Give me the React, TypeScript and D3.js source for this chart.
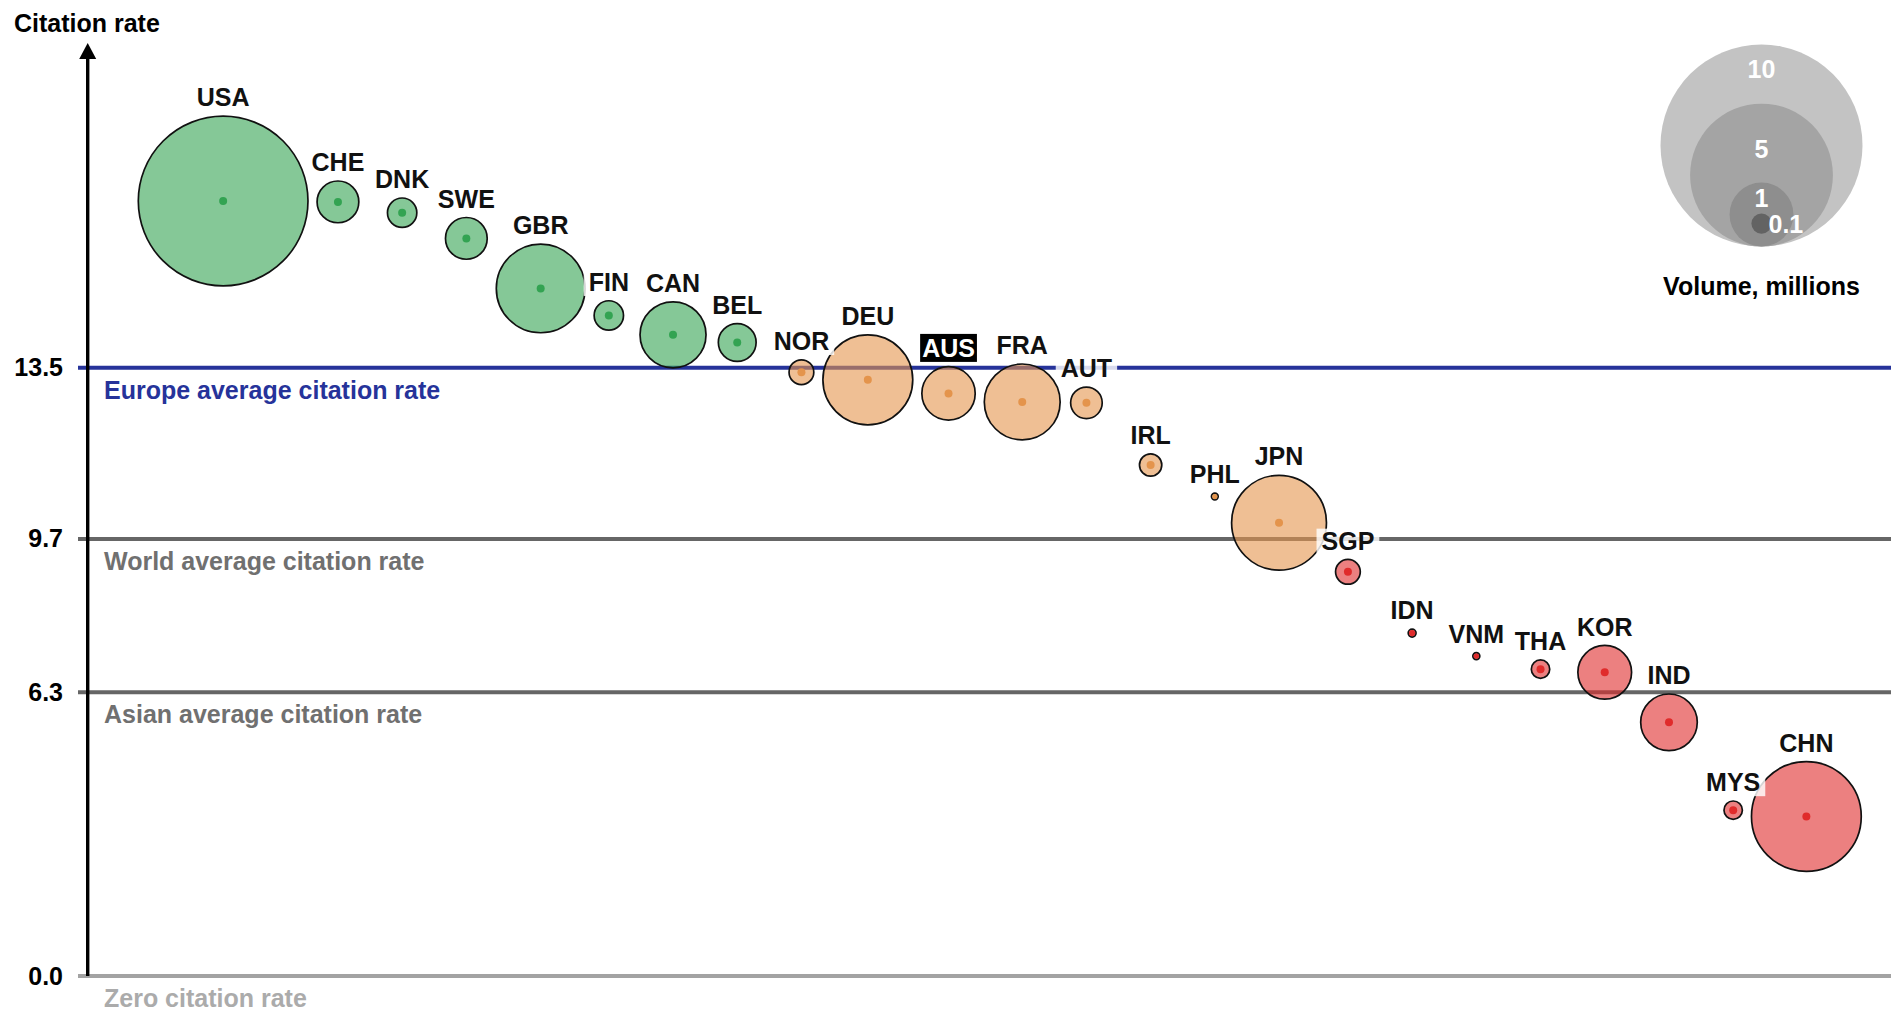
import React, { useEffect, useRef } from "react";
import * as d3 from "d3";

// Countries ordered by citation rate, with citation rate and publication volume (millions)
const countries = [
  "USA", "CHE", "DNK", "SWE", "GBR", "FIN", "CAN", "BEL", "NOR", "DEU", "AUS", "FRA",
  "AUT", "IRL", "PHL", "JPN", "SGP", "IDN", "VNM", "THA", "KOR", "IND", "MYS", "CHN",
];
const citationRates = [
  17.2, 17.18, 16.94, 16.37, 15.26, 14.66, 14.23, 14.06, 13.4, 13.23, 12.93, 12.74,
  12.72, 11.34, 10.64, 10.06, 8.97, 7.61, 7.1, 6.81, 6.74, 5.63, 3.68, 3.54,
];
const volumes = [
  7.19, 0.46, 0.235, 0.46, 2.0, 0.235, 1.12, 0.38, 0.17, 2.05, 0.74, 1.47,
  0.27, 0.14, 0.017, 2.28, 0.17, 0.022, 0.018, 0.098, 0.75, 0.83, 0.098, 3.04,
];
const highlighted = ["AUS"];

// Reference rates drawn as horizontal rules
const benchmarkLabels = [
  "Europe average citation rate",
  "World average citation rate",
  "Asian average citation rate",
  "Zero citation rate",
];
const benchmarkValues = [13.5, 9.7, 6.3, 0];

// Size legend entries (millions)
const legendVolumes = [10, 5, 1, 0.1];

const W = 1901;
const H = 1014;
const FONT = "'Liberation Sans', Arial, Helvetica, sans-serif";

export default function App() {
  const ref = useRef<SVGSVGElement | null>(null);

  useEffect(() => {
    const svg = d3.select(ref.current);
    svg.selectAll("*").remove();

    const axisX = 87.7;
    const lineX0 = 78;
    const lineX1 = 1891;

    const y = d3.scaleLinear().domain([0, 13.5]).range([976, 367.7]);
    const r = d3.scaleSqrt().domain([0, 10]).range([0, 101]);
    const group = d3
      .scaleThreshold<number, string>()
      .domain([9.7, 13.5])
      .range(["#e02b2b", "#e4944c", "#33a352"]);

    const ruleColor = ["#26339a", "#666666", "#666666", "#a3a3a3"];
    const ruleText = ["#26339a", "#707070", "#707070", "#ababab"];

    // Horizontal rules
    const rules = svg.append("g");
    benchmarkValues.forEach((v, i) => {
      rules
        .append("line")
        .attr("x1", lineX0)
        .attr("x2", lineX1)
        .attr("y1", y(v))
        .attr("y2", y(v))
        .attr("stroke", ruleColor[i])
        .attr("stroke-width", 4);
    });

    // Vertical axis with arrow head
    const yTop = 43;
    svg
      .append("line")
      .attr("x1", axisX)
      .attr("x2", axisX)
      .attr("y1", y(0))
      .attr("y2", yTop + 10)
      .attr("stroke", "#000")
      .attr("stroke-width", 3.4);
    svg
      .append("path")
      .attr("d", d3.line()([[axisX, yTop], [axisX - 8.5, yTop + 16], [axisX + 8.5, yTop + 16]]) + "Z")
      .attr("fill", "#000");

    // Horizontal placement: equal steps, widened where neighbouring bubbles would touch
    const step = 64.2;
    const pad = 7.5;
    const data = countries.map((c, i) => ({
      name: c,
      rate: citationRates[i],
      vol: volumes[i],
      rad: r(volumes[i]),
      x: 0,
    }));
    data.forEach((d, i) => {
      if (i === 0) d.x = 137.5 + d.rad;
      else {
        const p = data[i - 1];
        d.x = p.x + Math.max(step, p.rad + d.rad + pad);
      }
    });

    const bubbles = svg.append("g");
    bubbles
      .selectAll("circle.bubble")
      .data(data)
      .join("circle")
      .attr("class", "bubble")
      .attr("cx", (d) => d.x)
      .attr("cy", (d) => y(d.rate))
      .attr("r", (d) => Math.max(d.rad - 0.8, 1.5))
      .attr("fill", (d) => group(d.rate))
      .attr("fill-opacity", 0.6)
      .attr("stroke", "#111")
      .attr("stroke-width", 1.7);
    bubbles
      .selectAll("circle.dot")
      .data(data)
      .join("circle")
      .attr("class", "dot")
      .attr("cx", (d) => d.x)
      .attr("cy", (d) => y(d.rate))
      .attr("r", (d) => Math.min(4, Math.max(d.rad - 1.6, 1.5)))
      .attr("fill", (d) => group(d.rate));

    // Country labels with a light backing box
    const labels = svg.append("g");
    data.forEach((d) => {
      const g = labels.append("g");
      const isHi = highlighted.includes(d.name);
      const t = g
        .append("text")
        .attr("x", d.x)
        .attr("y", y(d.rate) - d.rad - 9)
        .attr("text-anchor", "middle")
        .attr("font-family", FONT)
        .attr("font-weight", "bold")
        .attr("font-size", 25)
        .attr("fill", isHi ? "#fff" : "#111")
        .text(d.name);
      const bb = (t.node() as SVGTextElement).getBBox();
      const p = isHi ? 2 : 5;
      g.insert("rect", "text")
        .attr("x", bb.x - p)
        .attr("y", bb.y + (isHi ? 0 : 2))
        .attr("width", bb.width + 2 * p)
        .attr("height", bb.height - (isHi ? 0 : 2))
        .attr("fill", isHi ? "#000" : "#fff")
        .attr("fill-opacity", isHi ? 1 : 0.82);
    });

    // Tick labels
    const axis = d3
      .axisLeft(y)
      .tickValues(benchmarkValues)
      .tickFormat(d3.format(".1f"))
      .tickSize(0)
      .tickPadding(7);
    const ag = svg.append("g").attr("transform", `translate(70,0)`).call(axis);
    ag.select(".domain").remove();
    ag.selectAll("text")
      .attr("font-family", FONT)
      .attr("font-weight", "bold")
      .attr("font-size", 25)
      .attr("fill", "#000");

    // Rule captions
    benchmarkValues.forEach((v, i) => {
      svg
        .append("text")
        .attr("x", 104)
        .attr("y", y(v) + 31)
        .attr("font-family", FONT)
        .attr("font-weight", "bold")
        .attr("font-size", 25)
        .attr("fill", ruleText[i])
        .text(benchmarkLabels[i]);
    });

    // Axis title
    svg
      .append("text")
      .attr("x", 14)
      .attr("y", 31.5)
      .attr("font-family", FONT)
      .attr("font-weight", "bold")
      .attr("font-size", 25)
      .attr("fill", "#000")
      .text("Citation rate");

    // Size legend: nested circles sharing a common base
    const lx = 1761.5;
    const base = 246.5;
    const legendFill = ["#c3c3c3", "#a4a4a4", "#8e8e8e", "#636363"];
    const labelNudge = [-5, 6, 0];
    const lg = svg.append("g");
    const centers = legendVolumes.map((v, i) =>
      i < legendVolumes.length - 1
        ? base - r(v)
        : base - r(legendVolumes[i - 1]) * 0.4 - r(v)
    );
    legendVolumes.forEach((v, i) => {
      lg.append("circle")
        .attr("cx", lx)
        .attr("cy", centers[i])
        .attr("r", r(v))
        .attr("fill", legendFill[i]);
    });
    legendVolumes.forEach((v, i) => {
      const last = i === legendVolumes.length - 1;
      let ly: number;
      if (last) ly = centers[i];
      else {
        const nextTop = centers[i + 1] - r(legendVolumes[i + 1]);
        const top = centers[i] - r(v);
        ly = (top + nextTop) / 2 + labelNudge[i];
      }
      lg.append("text")
        .attr("x", last ? lx + 7 : lx)
        .attr("y", ly)
        .attr("dy", "0.36em")
        .attr("text-anchor", last ? "start" : "middle")
        .attr("font-family", FONT)
        .attr("font-weight", "bold")
        .attr("font-size", 25)
        .attr("fill", "#fff")
        .text(String(v));
    });
    lg.append("text")
      .attr("x", lx)
      .attr("y", 295)
      .attr("text-anchor", "middle")
      .attr("font-family", FONT)
      .attr("font-weight", "bold")
      .attr("font-size", 25)
      .attr("fill", "#000")
      .text("Volume, millions");
  }, []);

  return (
    <svg
      ref={ref}
      width={W}
      height={H}
      style={{ position: "absolute", left: 0, top: 0, background: "#fff" }}
    />
  );
}
